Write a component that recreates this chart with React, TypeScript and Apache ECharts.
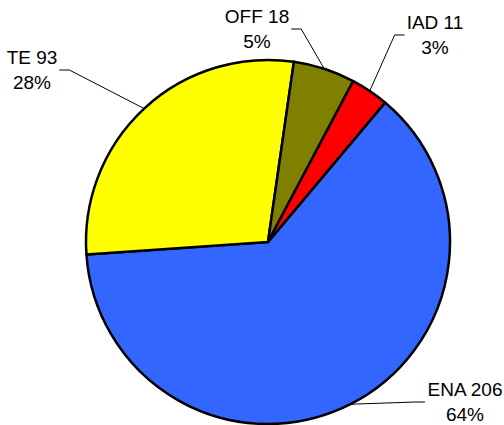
import React, { useEffect, useRef } from 'react';
import * as echarts from 'echarts';

const categories = ['ENA', 'TE', 'OFF', 'IAD'];
const values = [206, 93, 18, 11];
const percentLabels = [64, 28, 5, 3];
const colors = ['#3366FF', '#FFFF00', '#808000', '#FF0000'];
// label anchor centres (layout, not data)
const labelPositions = [
  [465, 402],
  [32, 70],
  [257, 29],
  [435, 35],
];

export default function App() {
  const ref = useRef<HTMLDivElement>(null);
  useEffect(() => {
    const chart = echarts.init(ref.current!, null, { renderer: 'svg' });
    chart.setOption({
      animation: false,
      backgroundColor: '#ffffff',
      series: [
        {
          type: 'pie',
          center: [268, 242],
          radius: 182,
          startAngle: 50,
          clockwise: true,
          avoidLabelOverlap: false,
          data: categories.map((name, i) => ({
            name,
            value: values[i],
            itemStyle: { color: colors[i] },
          })),
          itemStyle: { borderColor: '#000000', borderWidth: 2.5 },
          label: {
            show: true,
            position: 'outside',
            color: '#000000',
            fontSize: 19,
            fontFamily: 'Liberation Sans',
            lineHeight: 25,
            padding: [0, 2],
            formatter: (p: any) =>
              `${p.name} ${p.value}\n${percentLabels[p.dataIndex]}%`,
          },
          labelLine: {
            show: true,
            length: 20,
            length2: 10,
            lineStyle: { color: '#000000', width: 1 },
          },
          labelLayout: (p: any) => ({
            x: labelPositions[p.dataIndex][0],
            y: labelPositions[p.dataIndex][1],
            align: 'center',
            verticalAlign: 'middle',
          }),
          emphasis: { disabled: true },
        },
      ],
    });
    return () => chart.dispose();
  }, []);
  return (
    <div
      ref={ref}
      style={{ position: 'absolute', left: 0, top: 0, width: 504, height: 425 }}
    />
  );
}
